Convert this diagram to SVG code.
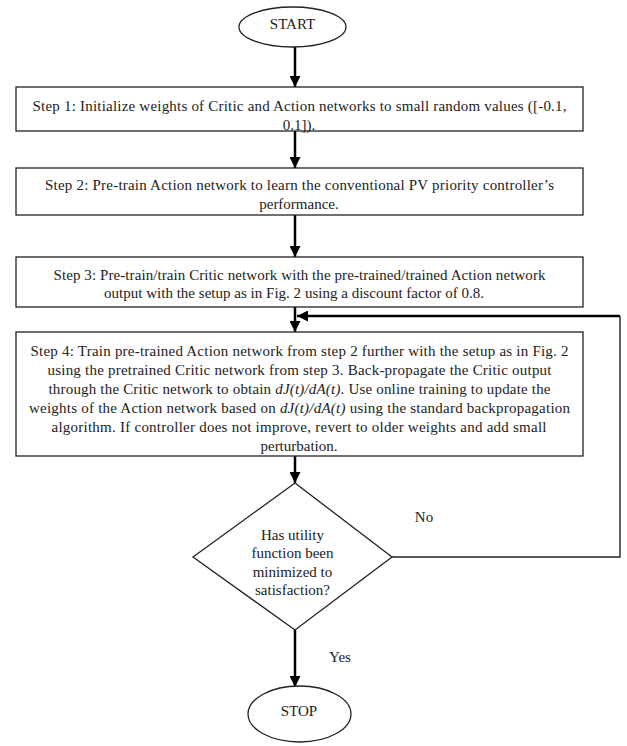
<svg xmlns="http://www.w3.org/2000/svg" width="627" height="746" viewBox="0 0 627 746">
<defs>
<marker id="ah" viewBox="0 0 10 10" refX="10" refY="5" markerWidth="4.4" markerHeight="4.4" markerUnits="strokeWidth" orient="auto">
<path d="M0,0 L10,5 L0,10 z" fill="#000"/>
</marker>
<style>
.box{fill:#fff;stroke:#222;stroke-width:1.3}
.t{font-family:"Liberation Serif","Times New Roman",serif;font-size:15px;fill:#222;text-anchor:middle}
.conn{stroke:#000;stroke-width:2.5;fill:none}
.thin{stroke:#222;stroke-width:1.4;fill:none}
</style>
</defs>
<rect width="627" height="746" fill="#fff"/>
<g id="connectors">
<line class="conn" x1="295" y1="47" x2="295" y2="87" marker-end="url(#ah)"/>
<line class="conn" x1="295" y1="131" x2="295" y2="168" marker-end="url(#ah)"/>
<line class="conn" x1="295" y1="215" x2="295" y2="257" marker-end="url(#ah)"/>
<line class="conn" x1="295" y1="307" x2="295" y2="332" marker-end="url(#ah)"/>
<line class="conn" x1="295" y1="456" x2="295" y2="483" marker-end="url(#ah)"/>
<line class="conn" x1="295" y1="630" x2="295" y2="687" marker-end="url(#ah)"/>
<polyline class="thin" points="392,557 620,557 620,316"/>
<line class="conn" x1="620" y1="316" x2="297" y2="316" marker-end="url(#ah)"/>
<text class="t" x="424" y="522">No</text>
<text class="t" x="340" y="662">Yes</text>
</g>
<g id="start">
<ellipse cx="292.5" cy="27" rx="53.5" ry="20" fill="#fff" stroke="#222" stroke-width="1.3"/>
<text class="t" x="292.5" y="29">START</text>
</g>
<g id="step1">
<rect class="box" x="16" y="87" width="567" height="44"/>
<text class="t" x="299.5" y="111" textLength="534" lengthAdjust="spacing">Step 1: Initialize weights of Critic and Action networks to small random values ([-0.1,</text>
<text class="t" x="299" y="130">0.1]).</text>
</g>
<g id="step2">
<rect class="box" x="16" y="168" width="567" height="47"/>
<text class="t" x="299.5" y="190" textLength="509" lengthAdjust="spacing">Step 2: Pre-train Action network to learn the conventional PV priority controller’s</text>
<text class="t" x="299" y="209">performance.</text>
</g>
<g id="step3">
<rect class="box" x="16" y="257" width="567" height="50"/>
<text class="t" x="299.5" y="280" textLength="492" lengthAdjust="spacing">Step 3: Pre-train/train Critic network with the pre-trained/trained Action network</text>
<text class="t" x="294" y="298" textLength="380" lengthAdjust="spacing">output with the setup as in Fig. 2 using a discount factor of 0.8.</text>
</g>
<g id="step4">
<rect class="box" x="16" y="332" width="567" height="124"/>
<text class="t" x="299.5" y="356" textLength="538" lengthAdjust="spacing">Step 4: Train pre-trained Action network from step 2 further with the setup as in Fig. 2</text>
<text class="t" x="299.5" y="375" textLength="504" lengthAdjust="spacing">using the pretrained Critic network from step 3. Back-propagate the Critic output</text>
<text class="t" x="299.5" y="394" textLength="502" lengthAdjust="spacing">through the Critic network to obtain <tspan font-style="italic">dJ(t)/dA(t)</tspan>. Use online training to update the</text>
<text class="t" x="299.5" y="413" textLength="541" lengthAdjust="spacing">weights of the Action network based on <tspan font-style="italic">dJ(t)/dA(t)</tspan> using the standard backpropagation</text>
<text class="t" x="299" y="432" textLength="495" lengthAdjust="spacing">algorithm.  If controller does not improve, revert to older weights and add small</text>
<text class="t" x="299" y="451">perturbation.</text>
</g>
<g id="decision">
<polygon points="295,483 392,557 295,630 193,557" fill="#fff" stroke="#222" stroke-width="1.3"/>
<text class="t" x="292.5" y="540">Has utility</text>
<text class="t" x="292.5" y="558">function been</text>
<text class="t" x="292.5" y="577">minimized to</text>
<text class="t" x="292.5" y="595">satisfaction?</text>
</g>
<g id="stop">
<ellipse cx="299.5" cy="714" rx="51.5" ry="28" fill="#fff" stroke="#222" stroke-width="1.3"/>
<text class="t" x="299" y="716">STOP</text>
</g>
</svg>
